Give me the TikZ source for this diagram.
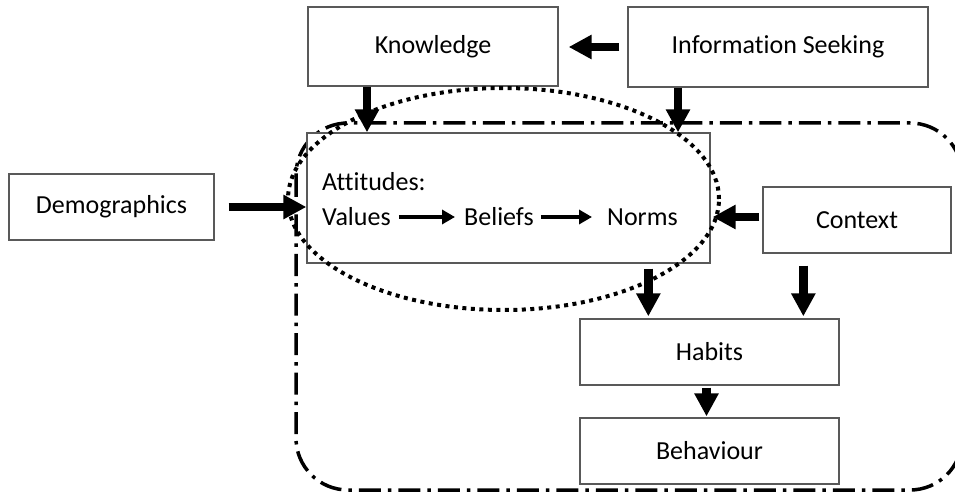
\documentclass[tikz,border=0pt]{standalone}
\usepackage{fontspec}
\setmainfont{Carlito}[Ligatures=NoCommon]
\usetikzlibrary{arrows.meta,positioning}

\begin{document}
\begin{tikzpicture}[
    x=1pt, y=-1pt,
    font=\fontsize{26}{31}\selectfont,
    box/.style={rectangle, draw=black!65, line width=1.3pt, fill=white, minimum height=66pt, inner sep=0pt},
    word/.style={inner sep=0pt, anchor=west},
    bigarrow/.style={line width=8.5pt, -{Triangle[width=23pt,length=23pt]}},
    smallarrow/.style={line width=3.5pt, -{Triangle[width=14pt,length=13pt]}},
    dotline/.style={line width=4pt, dash pattern=on 4pt off 4.5pt},
    dashdotline/.style={line width=3.5pt, dash pattern=on 22pt off 7pt on 3.5pt off 7pt, rounded corners=52pt}
]
\useasboundingbox (0,0) rectangle (955,494);

% Outer region
\draw[dashdotline] (296,123) rectangle (962,490);

% Boxes
\node[box, minimum width=250pt, minimum height=79pt] (know) at (433,46.5) {Knowledge};
\node[box, minimum width=300pt, minimum height=80pt] (info) at (778,47) {Information Seeking};
\node[box, minimum width=205pt] (demo) at (111.5,207) {Demographics};
\node[box, minimum width=403pt, minimum height=130pt] (att) at (508.5,198) {};
\node[box, minimum width=188pt] (ctx) at (857,220) {Context};
\node[box, minimum width=259pt] (hab) at (709.5,352) {Habits};
\node[box, minimum width=259pt] (beh) at (709.5,451) {Behaviour};

% Attitude chain
\node[word] (attl) at (322,182) {Attitudes:};
\node[word] (values) at (322,217) {Values};
\node[word] (beliefs) at (464,217) {Beliefs};
\node[word] (norms) at (607,217) {Norms};
\draw[smallarrow] ([xshift=8pt]values.east) -- ([xshift=-9pt]beliefs.west);
\draw[smallarrow] ([xshift=7pt]beliefs.east) -- ([xshift=-15pt]norms.west);

% Dotted ellipse
\draw[dotline] (503.5,199) ellipse [x radius=215.5pt, y radius=111pt];

% Arrows
\draw[bigarrow, shorten <=8pt, shorten >=10pt] (info.west) -- (info.west -| know.east);
\draw[bigarrow] ([xshift=-66pt]know.south) -- ([xshift=-66pt]know.south |- att.north);
\draw[bigarrow] ([xshift=-100pt]info.south) -- ([xshift=-100pt]info.south |- att.north);
\draw[bigarrow, shorten <=14pt] (demo.east) -- (demo.east -| att.west);
\draw[bigarrow, shorten <=3pt, shorten >=2pt] ([yshift=3pt]ctx.west) -- ([yshift=3pt]ctx.west -| att.east);
\draw[bigarrow, shorten <=5pt, shorten >=2pt] ([xshift=69pt]hab.north west |- att.south) -- ([xshift=69pt]hab.north west);
\draw[bigarrow, shorten <=12pt, shorten >=2pt] ([xshift=41pt]ctx.south west) -- ([xshift=41pt]ctx.south west |- hab.north);
\draw[bigarrow, shorten <=2pt, shorten >=1pt] ([xshift=-3pt]hab.south) -- ([xshift=-3pt]beh.north);
\end{tikzpicture}
\end{document}
